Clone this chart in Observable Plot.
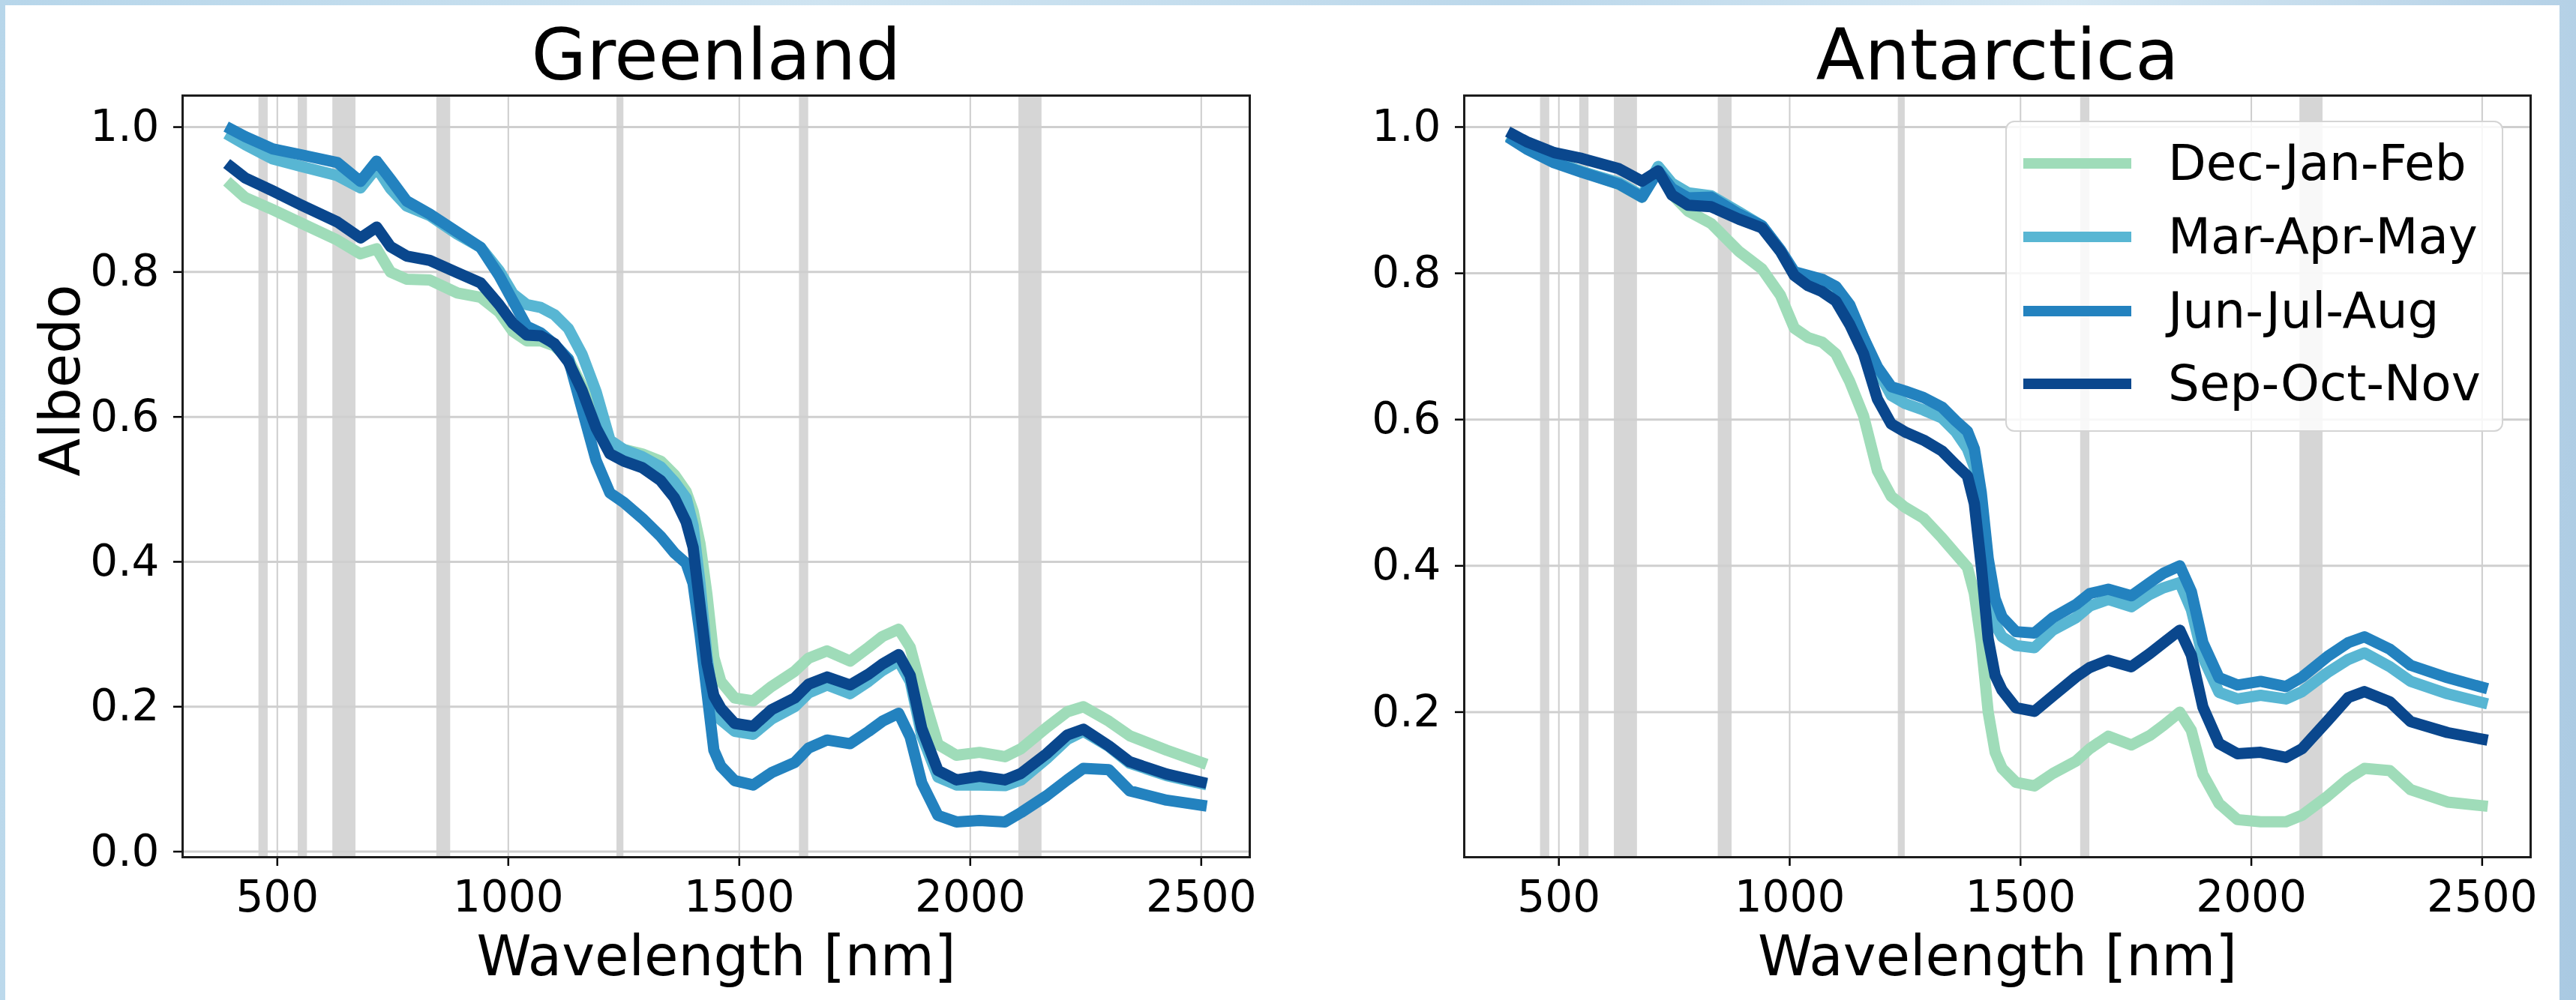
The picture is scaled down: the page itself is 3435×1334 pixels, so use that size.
<!DOCTYPE html>
<html>
<head>
<meta charset="utf-8">
<script src="https://cdn.jsdelivr.net/npm/d3@7"></script>
<script src="https://cdn.jsdelivr.net/npm/@observablehq/plot@0.6"></script>
<style>
  html, body { margin: 0; padding: 0; }
  body {
    width: 3435px; height: 1334px; overflow: hidden; position: relative;
    background: linear-gradient(100deg, #b7d6ea 0%, #cfe4f1 30%, #bcd8eb 55%, #d6e8f3 75%, #a9c9e2 100%);
    font-family: "DejaVu Sans", sans-serif;
  }
  #sheet { position: absolute; left: 7px; top: 7px; width: 3406px; height: 1327px; background: #fff; }
  .panel { position: absolute; top: 0; }
  #legend {
    position: absolute; left: 2674px; top: 161px; width: 660px; height: 411px;
    border: 2px solid #d4d4d4; border-radius: 12px; background: rgba(255,255,255,0.82);
  }
  .entry { position: absolute; left: 0; height: 0; }
  .entry .swatch { position: absolute; left: 22px; width: 144px; height: 14px; top: -7px; }
  .entry .name { position: absolute; left: 215px; top: -40px; font-size: 66px; line-height: 80px; white-space: nowrap; color: #000; }
</style>
</head>
<body>
<div id="sheet"></div>
<div id="left" class="panel" style="left:0"></div>
<div id="right" class="panel" style="left:1720px"></div>
<div id="legend"></div>
<script>
// Wavelength grid (nm) shared by every spectrum
const wavelengths = [400, 430, 490, 550, 630, 680, 715, 745, 780, 830, 890, 940, 980, 1010, 1040, 1070, 1100, 1130, 1160, 1190, 1220, 1250, 1290, 1330, 1360, 1385, 1400, 1415, 1430, 1445, 1460, 1490, 1530, 1570, 1620, 1650, 1690, 1740, 1780, 1810, 1845, 1870, 1895, 1930, 1970, 2020, 2075, 2110, 2165, 2210, 2245, 2300, 2345, 2425, 2500];

const seasons = ["Dec-Jan-Feb", "Mar-Apr-May", "Jun-Jul-Aug", "Sep-Oct-Nov"];
const seasonColors = ["#9fdcb9", "#58b6d3", "#2382bf", "#0a478d"];

// Greenland seasonal albedo spectra
const greenlandDJF = [0.920, 0.903, 0.886, 0.868, 0.844, 0.825, 0.832, 0.800, 0.790, 0.789, 0.771, 0.765, 0.745, 0.718, 0.705, 0.705, 0.698, 0.680, 0.642, 0.595, 0.560, 0.555, 0.549, 0.539, 0.520, 0.497, 0.470, 0.425, 0.355, 0.268, 0.235, 0.212, 0.208, 0.228, 0.249, 0.267, 0.277, 0.263, 0.282, 0.297, 0.307, 0.282, 0.222, 0.148, 0.133, 0.137, 0.131, 0.142, 0.171, 0.193, 0.200, 0.180, 0.160, 0.140, 0.123];
const greenlandMAM = [0.987, 0.976, 0.956, 0.946, 0.933, 0.916, 0.944, 0.915, 0.891, 0.878, 0.852, 0.834, 0.802, 0.770, 0.755, 0.751, 0.741, 0.722, 0.686, 0.635, 0.568, 0.555, 0.545, 0.531, 0.510, 0.488, 0.450, 0.370, 0.270, 0.200, 0.182, 0.166, 0.162, 0.183, 0.200, 0.219, 0.230, 0.218, 0.235, 0.250, 0.263, 0.235, 0.160, 0.103, 0.092, 0.092, 0.091, 0.099, 0.128, 0.155, 0.166, 0.145, 0.122, 0.105, 0.094];
const greenlandJJA = [0.997, 0.987, 0.970, 0.962, 0.951, 0.925, 0.953, 0.928, 0.898, 0.880, 0.855, 0.834, 0.795, 0.760, 0.725, 0.716, 0.700, 0.680, 0.610, 0.540, 0.495, 0.482, 0.460, 0.435, 0.412, 0.398, 0.370, 0.300, 0.220, 0.140, 0.118, 0.098, 0.092, 0.109, 0.123, 0.143, 0.154, 0.149, 0.166, 0.180, 0.191, 0.158, 0.095, 0.050, 0.041, 0.043, 0.041, 0.054, 0.077, 0.099, 0.115, 0.113, 0.084, 0.071, 0.064];
const greenlandSON = [0.945, 0.930, 0.912, 0.893, 0.869, 0.847, 0.862, 0.835, 0.822, 0.816, 0.799, 0.785, 0.755, 0.729, 0.713, 0.712, 0.701, 0.676, 0.636, 0.585, 0.549, 0.539, 0.530, 0.512, 0.488, 0.455, 0.420, 0.340, 0.260, 0.215, 0.198, 0.177, 0.173, 0.196, 0.212, 0.231, 0.241, 0.230, 0.245, 0.259, 0.272, 0.243, 0.170, 0.112, 0.099, 0.104, 0.099, 0.108, 0.135, 0.161, 0.169, 0.146, 0.124, 0.107, 0.096];

// Antarctica seasonal albedo spectra
const antarcticaDJF = [0.984, 0.973, 0.953, 0.939, 0.922, 0.904, 0.943, 0.908, 0.885, 0.868, 0.830, 0.806, 0.770, 0.725, 0.712, 0.706, 0.690, 0.652, 0.605, 0.530, 0.495, 0.480, 0.465, 0.438, 0.416, 0.398, 0.362, 0.295, 0.200, 0.145, 0.123, 0.104, 0.099, 0.116, 0.133, 0.150, 0.167, 0.155, 0.168, 0.182, 0.200, 0.175, 0.115, 0.075, 0.053, 0.050, 0.050, 0.059, 0.085, 0.109, 0.123, 0.120, 0.094, 0.077, 0.072];
const antarcticaMAM = [0.984, 0.973, 0.953, 0.939, 0.924, 0.906, 0.946, 0.923, 0.910, 0.906, 0.884, 0.865, 0.830, 0.798, 0.794, 0.789, 0.780, 0.753, 0.712, 0.668, 0.633, 0.622, 0.613, 0.602, 0.583, 0.560, 0.535, 0.480, 0.385, 0.320, 0.303, 0.291, 0.288, 0.312, 0.329, 0.345, 0.354, 0.344, 0.361, 0.370, 0.377, 0.340, 0.275, 0.227, 0.218, 0.223, 0.218, 0.228, 0.254, 0.272, 0.281, 0.262, 0.242, 0.225, 0.213];
const antarcticaJJA = [0.982, 0.970, 0.951, 0.938, 0.922, 0.904, 0.940, 0.916, 0.903, 0.904, 0.881, 0.865, 0.832, 0.802, 0.797, 0.792, 0.782, 0.757, 0.712, 0.672, 0.645, 0.639, 0.630, 0.617, 0.598, 0.584, 0.560, 0.500, 0.410, 0.355, 0.330, 0.310, 0.308, 0.329, 0.347, 0.362, 0.368, 0.359, 0.377, 0.390, 0.400, 0.365, 0.295, 0.247, 0.237, 0.242, 0.235, 0.248, 0.276, 0.295, 0.303, 0.286, 0.264, 0.247, 0.234];
const antarcticaSON = [0.990, 0.980, 0.965, 0.957, 0.943, 0.926, 0.940, 0.907, 0.893, 0.891, 0.874, 0.862, 0.830, 0.797, 0.783, 0.775, 0.762, 0.730, 0.690, 0.628, 0.594, 0.583, 0.572, 0.557, 0.538, 0.523, 0.485, 0.400, 0.300, 0.250, 0.230, 0.206, 0.201, 0.222, 0.248, 0.261, 0.271, 0.262, 0.280, 0.295, 0.312, 0.278, 0.207, 0.157, 0.143, 0.145, 0.138, 0.150, 0.188, 0.220, 0.228, 0.214, 0.187, 0.172, 0.163];

// Shaded wavelength intervals (nm)
const bandStart = [460, 545, 620, 845, 1235, 1630, 2105];
const bandEnd   = [480, 565, 670, 875, 1250, 1650, 2155];

const xTicks = [500, 1000, 1500, 2000, 2500];
const yTicksGreenland = [0.0, 0.2, 0.4, 0.6, 0.8, 1.0];
const yTicksAntarctica = [0.2, 0.4, 0.6, 0.8, 1.0];

const bands = bandStart.map((s, i) => ({start: s, end: bandEnd[i]}));

function rowsFor(series) {
  return seasons.flatMap((season, i) =>
    wavelengths.map((w, j) => ({season, wavelength: w, albedo: series[i][j]})));
}

function panel({title, series, yDomain, yTicks, ylabel, width, marginLeft, marginRight}) {
  const rows = rowsFor(series);
  const marks = [
    Plot.rect(bands, {x1: "start", x2: "end", fill: "#d6d6d6"}),
    Plot.gridX(xTicks, {stroke: "#cdcdcd", strokeOpacity: 1, strokeWidth: 2}),
    Plot.gridY(yTicks, {stroke: "#cfcfcf", strokeOpacity: 1, strokeWidth: 3}),
    ...seasons.map((s, i) => Plot.line(rows.filter(d => d.season === s), {
      x: "wavelength", y: "albedo", stroke: seasonColors[i], strokeWidth: 15,
      strokeLinejoin: "round", strokeLinecap: "square"
    })),
    Plot.axisX(xTicks, {tickSize: 12, tickPadding: 19, strokeWidth: 2.5, fontSize: 58, tickFormat: d => String(d), label: null}),
    Plot.axisY(yTicks, {tickSize: 12, tickPadding: 19, strokeWidth: 2.5, fontSize: 58, tickFormat: d3.format(".1f"), label: null}),
    Plot.frame({stroke: "#1c1c1c", strokeWidth: 3}),
    Plot.text([title], {text: d => d, frameAnchor: "top", dy: -22, lineAnchor: "bottom", fontSize: 95, fill: "#000"}),
    Plot.text(["Wavelength [nm]"], {text: d => d, frameAnchor: "bottom", dy: 157, lineAnchor: "bottom", fontSize: 74, fill: "#000"})
  ];
  if (ylabel) {
    marks.push(Plot.text([ylabel], {text: d => d, frameAnchor: "left", dx: -138, rotate: -90, lineAnchor: "bottom", fontSize: 74, fill: "#000"}));
  }
  return Plot.plot({
    width, height: 1334,
    marginLeft, marginRight, marginTop: 127, marginBottom: 191,
    x: {domain: [295, 2605]},
    y: {domain: yDomain},
    style: {fontFamily: "'DejaVu Sans', sans-serif", fontSize: "58px", color: "#000", background: "transparent", overflow: "visible", maxWidth: "none"},
    marks
  });
}

document.getElementById("left").append(panel({
  title: "Greenland",
  series: [greenlandDJF, greenlandMAM, greenlandJJA, greenlandSON],
  yDomain: [-0.0077, 1.0435], yTicks: yTicksGreenland, ylabel: "Albedo",
  width: 1720, marginLeft: 243, marginRight: 54
}));

document.getElementById("right").append(panel({
  title: "Antarctica",
  series: [antarcticaDJF, antarcticaMAM, antarcticaJJA, antarcticaSON],
  yDomain: [0.0016, 1.043], yTicks: yTicksAntarctica, ylabel: null,
  width: 1715, marginLeft: 232, marginRight: 61
}));

// Season legend inside the Antarctica panel
const legend = document.getElementById("legend");
const rowCenters = [55, 153, 252, 349];
seasons.forEach((s, i) => {
  const e = document.createElement("div");
  e.className = "entry";
  e.style.top = rowCenters[i] + "px";
  e.innerHTML = `<div class="swatch" style="background:${seasonColors[i]}"></div><div class="name">${s}</div>`;
  legend.append(e);
});
</script>
</body>
</html>
